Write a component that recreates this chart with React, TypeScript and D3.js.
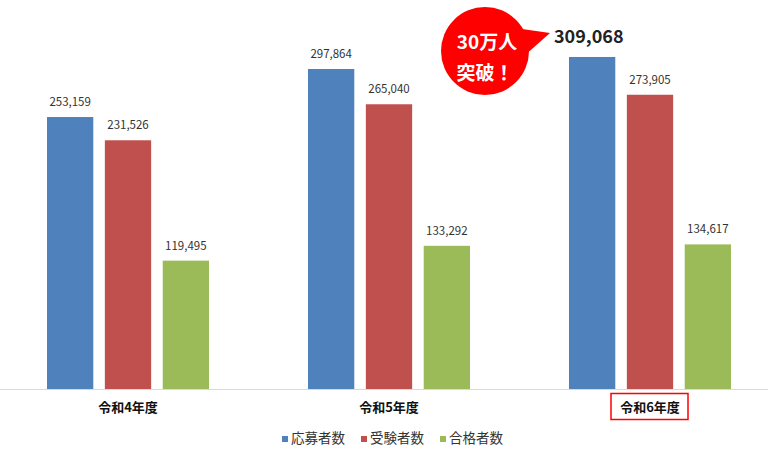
import React, { useEffect, useRef } from 'react';
import * as d3 from 'd3';

const YEARS = ['令和4年度', '令和5年度', '令和6年度'];
const SERIES = ['応募者数', '受験者数', '合格者数'];
const COLORS = ['#4F81BD', '#C0504D', '#9BBB59'];
const APPLICANTS = [253159, 297864, 309068];
const EXAMINEES = [231526, 265040, 273905];
const PASSED = [119495, 133292, 134617];
const VALUES = [APPLICANTS, EXAMINEES, PASSED];

const W = 768;
const H = 450;
const BASE = 389;
const FONT = '"Noto Sans CJK JP", "DejaVu Sans", sans-serif';

export default function App() {
  const ref = useRef<SVGSVGElement>(null);

  useEffect(() => {
    const svg = d3.select(ref.current);
    svg.selectAll('*').remove();
    svg.append('rect').attr('width', W).attr('height', H).attr('fill', '#fff');

    const x0 = d3.scaleBand().domain(YEARS).range([-2, 781]);
    const x1 = d3.scaleBand().domain(SERIES).range([49, 211]).paddingInner(0.2);
    const y = d3.scaleLinear().domain([0, 350000]).range([BASE, 13]);

    // bars + value labels
    YEARS.forEach((yr, gi) => {
      const g = svg.append('g').attr('transform', `translate(${x0(yr)},0)`);
      SERIES.forEach((s, si) => {
        const v = VALUES[si][gi];
        const bx = x1(s)!;
        g.append('rect')
          .attr('x', bx).attr('y', y(v))
          .attr('width', x1.bandwidth()).attr('height', BASE - y(v))
          .attr('fill', COLORS[si]);
        const big = gi === 2 && si === 0;
        if (big) {
          g.append('text')
            .attr('x', bx - 15).attr('y', y(v) - 14)
            .attr('font-family', FONT).attr('font-size', 18).attr('font-weight', 'bold')
            .attr('fill', '#222')
            .text(d3.format(',')(v));
        } else {
          g.append('text')
            .attr('x', bx + x1.bandwidth() / 2).attr('y', y(v) - 11)
            .attr('text-anchor', 'middle')
            .attr('font-family', FONT).attr('font-size', 11.5)
            .attr('fill', '#333')
            .text(d3.format(',')(v));
        }
      });
    });

    // baseline
    svg.append('line')
      .attr('x1', 0).attr('x2', W).attr('y1', BASE + 0.5).attr('y2', BASE + 0.5)
      .attr('stroke', '#d9d9d9').attr('stroke-width', 1);

    // category labels
    YEARS.forEach((yr, gi) => {
      const cx = x0(yr)! + 130;
      svg.append('text')
        .attr('x', cx).attr('y', 412)
        .attr('text-anchor', 'middle')
        .attr('font-family', FONT).attr('font-size', 13).attr('font-weight', 'bold')
        .attr('fill', '#111')
        .text(yr);
      if (gi === 2) {
        svg.append('rect')
          .attr('x', cx - 39).attr('y', 393.5).attr('width', 77).attr('height', 26)
          .attr('fill', 'none').attr('stroke', '#f00').attr('stroke-width', 1.5);
      }
    });

    // legend
    const legendX = [282, 361, 440];
    SERIES.forEach((s, si) => {
      svg.append('rect')
        .attr('x', legendX[si]).attr('y', 436).attr('width', 6).attr('height', 6)
        .attr('fill', COLORS[si]);
      svg.append('text')
        .attr('x', legendX[si] + 9).attr('y', 443)
        .attr('font-family', FONT).attr('font-size', 13.5)
        .attr('fill', '#333')
        .text(s);
    });

    // callout bubble
    const bub = svg.append('g');
    bub.append('path')
      .attr('d', 'M515,28 L550,33 L524,56 Z')
      .attr('fill', '#ff0000');
    bub.append('circle')
      .attr('cx', 485).attr('cy', 51).attr('r', 44)
      .attr('fill', '#ff0000');
    bub.append('text')
      .attr('x', 487).attr('y', 49).attr('text-anchor', 'middle')
      .attr('font-family', FONT).attr('font-size', 19).attr('font-weight', 'bold')
      .attr('fill', '#fff').text('30万人');
    bub.append('text')
      .attr('x', 485).attr('y', 80).attr('text-anchor', 'middle')
      .attr('font-family', FONT).attr('font-size', 19).attr('font-weight', 'bold')
      .attr('fill', '#fff').text('突破！');
  }, []);

  return <svg ref={ref} width={W} height={H} style={{ display: 'block', position: 'absolute', left: 0, top: 0 }} />;
}
